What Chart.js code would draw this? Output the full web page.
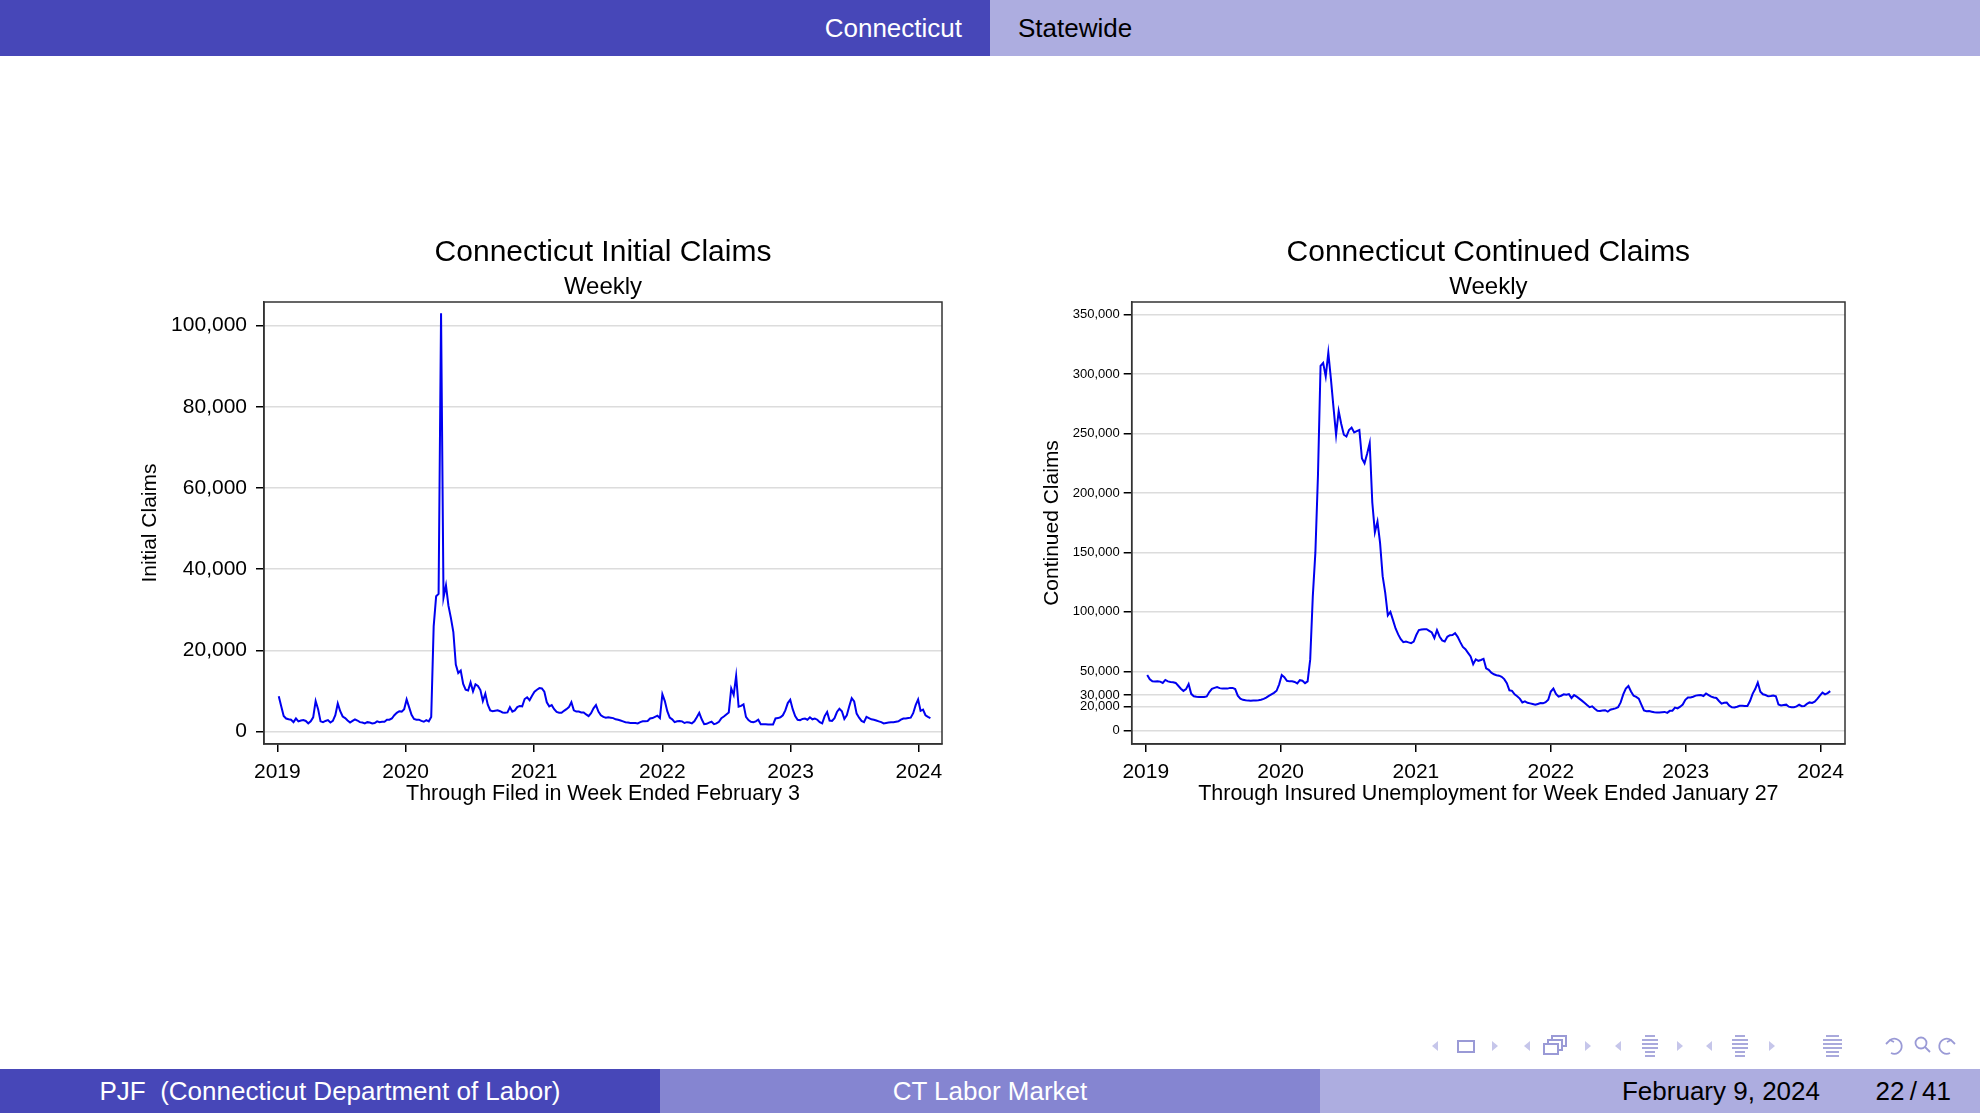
<!DOCTYPE html>
<html>
<head>
<meta charset="utf-8">
<title>CT Labor Market</title>
<script src="https://cdn.jsdelivr.net/npm/chart.js@4.4.0/dist/chart.umd.min.js"></script>
<style>
  html, body { margin: 0; padding: 0; background: #fff; }
  body { width: 1980px; height: 1113px; position: relative; overflow: hidden;
         font-family: "Liberation Sans", Arial, Helvetica, sans-serif; }
  .band { position: absolute; box-sizing: border-box; white-space: nowrap; font-size: 26px; }
  .head { top: 0; height: 56px; line-height: 56px; }
  .foot { top: 1069px; height: 44px; line-height: 44px; }
  canvas { position: absolute; }
</style>
</head>
<body>

<div class="band head" style="left:0;width:990px;background:#4747b8;color:#fff;text-align:right;padding-right:28px">Connecticut</div>
<div class="band head" style="left:990px;width:990px;background:#adade0;color:#000;padding-left:28px">Statewide</div>

<canvas id="initialChart" width="900" height="590" style="left:100px;top:220px"></canvas>
<canvas id="continuedChart" width="900" height="590" style="left:1000px;top:220px"></canvas>

<svg width="560" height="40" viewBox="1420 1026 560 40" style="position:absolute;left:1420px;top:1026px">
  <g fill="#c6c6ea">
    <polygon points="1438,1041 1432,1046 1438,1051"/>
    <polygon points="1492,1041 1498,1046 1492,1051"/>
    <polygon points="1530,1041 1524,1046 1530,1051"/>
    <polygon points="1585,1041 1591,1046 1585,1051"/>
    <polygon points="1621,1041 1615,1046 1621,1051"/>
    <polygon points="1677,1041 1683,1046 1677,1051"/>
    <polygon points="1712,1041 1706,1046 1712,1051"/>
    <polygon points="1769,1041 1775,1046 1769,1051"/>
  </g>
  <g fill="none" stroke="#9a9ad6" stroke-width="2">
    <rect x="1458" y="1041" width="16" height="11"/>
    <rect x="1552" y="1036" width="14" height="10" fill="#fff"/>
    <rect x="1548" y="1040" width="14" height="10" fill="#fff"/>
    <rect x="1544" y="1044" width="14" height="10" fill="#fff"/>
  </g>
  <g stroke="#9a9ad6" stroke-width="1.7">
    <line x1="1645" y1="1036" x2="1655" y2="1036"/>
    <line x1="1642" y1="1040" x2="1658" y2="1040"/>
    <line x1="1642" y1="1044" x2="1658" y2="1044"/>
    <line x1="1642" y1="1048" x2="1658" y2="1048"/>
    <line x1="1645" y1="1052" x2="1655" y2="1052"/>
    <line x1="1645" y1="1056" x2="1655" y2="1056"/>
    <line x1="1735" y1="1036" x2="1745" y2="1036"/>
    <line x1="1732" y1="1040" x2="1748" y2="1040"/>
    <line x1="1732" y1="1044" x2="1748" y2="1044"/>
    <line x1="1732" y1="1048" x2="1748" y2="1048"/>
    <line x1="1735" y1="1052" x2="1745" y2="1052"/>
    <line x1="1735" y1="1056" x2="1745" y2="1056"/>
    <line x1="1826" y1="1036" x2="1839" y2="1036"/>
    <line x1="1823" y1="1040" x2="1842" y2="1040"/>
    <line x1="1823" y1="1044" x2="1842" y2="1044"/>
    <line x1="1823" y1="1048" x2="1842" y2="1048"/>
    <line x1="1826" y1="1052" x2="1839" y2="1052"/>
    <line x1="1826" y1="1056" x2="1839" y2="1056"/>
  </g>
  <g fill="none" stroke="#9a9ad6" stroke-width="1.8">
    <path d="M1890,1040 A7.5,7.5 0 1 1 1891,1053"/>
    <polyline points="1886,1044 1890,1040 1894,1042"/>
    <circle cx="1921" cy="1043" r="5.5"/>
    <line x1="1925" y1="1047" x2="1930" y2="1052"/>
    <path d="M1951,1040 A7.5,7.5 0 1 0 1950,1053"/>
    <polyline points="1955,1044 1951,1040 1947,1042"/>
  </g>
</svg>

<div class="band foot" style="left:0;width:660px;background:#4747b8;color:#fff;text-align:center">PJF&nbsp;&nbsp;(Connecticut Department of Labor)</div>
<div class="band foot" style="left:660px;width:660px;background:#8585d1;color:#fff;text-align:center">CT Labor Market</div>
<div class="band foot" style="left:1320px;width:660px;background:#adade0;color:#000">
  <span style="position:absolute;right:160px">February 9, 2024</span>
  <span style="position:absolute;right:29px">22&thinsp;/&thinsp;41</span>
</div>

<script>
// weekly values, first week ended Jan 5 2019
const firstWeek = Date.UTC(2019, 0, 5);
const years = [2019, 2020, 2021, 2022, 2023, 2024];

const initialClaims = [
  8700, 6200, 3800, 3200, 3000, 2900, 2300, 3200, 2500, 2700, 2800, 2600, 2000, 2500, 3500, 7500,
  5500, 2500, 2300, 2600, 2800, 2200, 2600, 4000, 6900, 5000, 3700, 3300, 2700, 2200, 2600, 3000,
  2700, 2300, 2200, 2000, 2300, 2200, 2000, 2100, 2500, 2300, 2400, 2400, 2900, 2900, 3200, 4000,
  4600, 5000, 4900, 5500, 7900, 6000, 4100, 3100, 2900, 2900, 2600, 2400, 2800, 2500, 3600, 25900,
  33300, 33900, 103000, 33000, 36000, 31000, 28000, 24500, 16500, 14400, 15000, 11700, 10300, 10100, 12100, 9900,
  11600, 11200, 10200, 7500, 9300, 6600, 5200, 5000, 5100, 5200, 5000, 4700, 4600, 4700, 6000, 4900,
  5200, 6000, 6300, 6200, 8000, 8400, 7700, 8800, 9800, 10300, 10700, 10600, 9800, 7200, 6200, 6500,
  5500, 4800, 4600, 4600, 5100, 5500, 6000, 7200, 5200, 4900, 4900, 4700, 4700, 4200, 3800, 4500,
  5700, 6500, 4900, 4000, 3600, 3400, 3500, 3400, 3300, 3000, 2900, 2700, 2500, 2300, 2200, 2100,
  2100, 2100, 2000, 2300, 2500, 2500, 2600, 3200, 3300, 3600, 3900, 3300, 9200, 7500, 5000, 3400,
  3000, 2300, 2500, 2600, 2500, 2100, 2300, 2200, 2000, 2500, 3500, 4600, 3000, 1800, 1900, 2200,
  2400, 1800, 2000, 2400, 3300, 3700, 4200, 4700, 10600, 9000, 13700, 6100, 6300, 6700, 3600, 2800,
  2400, 2300, 2500, 2900, 1800, 1800, 1800, 1700, 1700, 1700, 3200, 3300, 3500, 4000, 5200, 7000,
  7800, 5500, 3800, 2900, 2800, 3100, 3200, 2900, 3500, 3000, 3200, 2900, 2300, 2000, 3800, 4800,
  2700, 2600, 3300, 4800, 5600, 5000, 3100, 4000, 6200, 8200, 7400, 4400, 3400, 2600, 2300, 3600,
  3300, 3000, 2900, 2700, 2500, 2300, 2000, 2100, 2200, 2300, 2300, 2400, 2500, 2900, 3200, 3200,
  3300, 3400, 4500, 6500, 7900, 5100, 5400, 4000, 3600, 3300
];

const continuedClaims = [
  46800, 43200, 41500, 41300, 41500, 41300, 40200, 42700, 41500, 41000, 40800, 40200, 37800, 35300, 33500, 35000,
  39200, 31000, 29000, 28500, 28400, 28300, 28400, 28800, 32500, 35200, 36000, 36700, 35800, 35400, 35400, 35400,
  36000, 36000, 35000, 29500, 27000, 26000, 25600, 25300, 25200, 25400, 25500, 25600, 26000, 26800, 27800, 29300,
  30600, 31800, 33600, 39000, 46800, 45000, 42000, 41500, 41500, 41000, 39800, 42500, 42000, 40000, 41500, 60000,
  113000, 150000, 215000, 307000, 309500, 298000, 318000, 296000, 272000, 249000, 269000, 258000, 249000, 247500, 253000, 255000,
  251000, 252000, 253000, 229000, 225000, 233000, 242000, 192000, 167000, 176000, 158000, 130000, 116000, 97000, 100000, 93000,
  86000, 81000, 77000, 74500, 75000, 74300, 73700, 75000, 80500, 84600, 85200, 85400, 85400, 84000, 82600, 78000,
  84600, 79300, 76000, 75000, 79000, 80300, 80400, 82000, 79000, 74500, 70500, 68500, 65500, 62500, 56000, 60000,
  58800, 59500, 60500, 52500, 51200, 48800, 47500, 46700, 46300, 45300, 43400, 40000, 34000, 33500, 30600, 29000,
  27000, 23800, 24700, 23500, 23000, 22400, 21800, 22500, 23200, 23000, 24000, 26000, 33000, 35500, 31000, 28600,
  29400, 30600, 30300, 30800, 27500, 30000, 28600, 27000, 25300, 23500, 21600, 19800, 20500, 18500, 16800, 16600,
  17000, 17200, 16000, 17700, 18200, 18800, 19800, 23800, 30500, 35500, 37600, 33000, 29400, 28500, 27000, 22000,
  17000, 16300, 16500, 16000, 15500, 15400, 15400, 15600, 15800, 15000, 16700, 16800, 19400, 18800, 20200, 22000,
  26000, 28000, 28000, 28600, 29500, 29800, 30000, 29200, 31300, 30000, 28600, 27900, 27500, 25000, 22800, 23500,
  23600, 21000, 19700, 19500, 20200, 21000, 21000, 20800, 20800, 25000, 31000, 35000, 40500, 32800, 30600, 30000,
  28900, 29200, 29600, 29000, 22000, 21300, 21600, 21900, 20200, 19800, 19800, 20400, 21800, 20600, 20800, 22500,
  23800, 23400, 24500, 26800, 29500, 32000, 30500, 31600, 33300
];

const initialTicks = [0, 20000, 40000, 60000, 80000, 100000];
const continuedTicks = [0, 20000, 30000, 50000, 100000, 150000, 200000, 250000, 300000, 350000];

const DAY = 86400000;
const jan1 = Date.UTC(2019, 0, 1);

function dayOf(ms) { return (ms - jan1) / DAY; }

function weeklyPoints(values) {
  return values.map((v, i) => ({ x: dayOf(firstWeek) + 7 * i, y: v }));
}

const yearDays = years.map(y => dayOf(Date.UTC(y, 0, 1)));

// Stata draws a box round the plot region
const plotFrame = {
  id: 'plotFrame',
  afterDraw(chart) {
    const a = chart.chartArea;
    const ctx = chart.ctx;
    ctx.save();
    ctx.strokeStyle = '#333';
    ctx.lineWidth = 1.5;
    ctx.strokeRect(a.left, a.top, a.right - a.left, a.bottom - a.top);
    ctx.restore();
  }
};

Chart.defaults.font.family = '"Liberation Sans", Arial, Helvetica, sans-serif';
Chart.defaults.color = '#000';

function claimsChart(id, o) {
  return new Chart(document.getElementById(id), {
    type: 'line',
    data: {
      datasets: [{
        data: weeklyPoints(o.values),
        borderColor: '#0000f0',
        borderWidth: 2,
        pointRadius: 0,
        tension: 0,
        fill: false
      }]
    },
    options: {
      responsive: false,
      animation: false,
      layout: { padding: { left: 0, right: o.padRight, top: 0, bottom: 0 } },
      plugins: {
        legend: { display: false },
        tooltip: { enabled: false },
        title: {
          display: true, text: o.title, fullSize: false,
          font: { size: 30, weight: 'normal' }, padding: { top: 15.2, bottom: 0 }
        },
        subtitle: {
          display: true, text: 'Weekly', fullSize: false, color: '#000',
          font: { size: 24 }, padding: { top: 1.9, bottom: 0.1 }
        }
      },
      scales: {
        x: {
          type: 'linear', min: -38, max: 1892,
          afterBuildTicks: s => { s.ticks = yearDays.map(v => ({ value: v })); },
          afterFit: s => { s.height = 66; },
          ticks: {
            autoSkip: false, maxRotation: 0, padding: 7.9, font: { size: 21 },
            callback: v => years[yearDays.indexOf(v)]
          },
          grid: { drawOnChartArea: false, tickColor: '#000', tickLength: 8, lineWidth: 1.5 },
          border: { color: '#333', width: 1.5 },
          title: { display: true, text: o.xTitle, font: { size: 21.5 }, padding: { top: 0, bottom: 3.1 } }
        },
        y: {
          min: o.yMin, max: o.yMax,
          afterBuildTicks: s => { s.ticks = o.ticks.map(v => ({ value: v })); },
          afterFit: s => { s.width = o.axisWidth; },
          ticks: {
            autoSkip: false, padding: o.tickPad, font: { size: o.tickSize },
            callback: v => v.toLocaleString('en-US')
          },
          grid: { color: '#dcdcdc', lineWidth: 1.5, tickColor: '#000', tickLength: 8 },
          border: { color: '#333', width: 1.5 },
          title: { display: true, text: o.yTitle, font: { size: 21 }, padding: { top: o.yTitlePad, bottom: 0 } }
        }
      }
    },
    plugins: [plotFrame]
  });
}

claimsChart('initialChart', {
  values: initialClaims,
  title: 'Connecticut Initial Claims',
  xTitle: 'Through Filed in Week Ended February 3',
  yTitle: 'Initial Claims',
  ticks: initialTicks,
  yMin: -3080, yMax: 105800,
  axisWidth: 164, padRight: 58,
  tickSize: 21, tickPad: 9, yTitlePad: 37.4
});

claimsChart('continuedChart', {
  values: continuedClaims,
  title: 'Connecticut Continued Claims',
  xTitle: 'Through Insured Unemployment for Week Ended January 27',
  yTitle: 'Continued Claims',
  ticks: continuedTicks,
  yMin: -11200, yMax: 360700,
  axisWidth: 131.7, padRight: 55,
  tickSize: 13, tickPad: 4, yTitlePad: 39.4
});
</script>
</body>
</html>
